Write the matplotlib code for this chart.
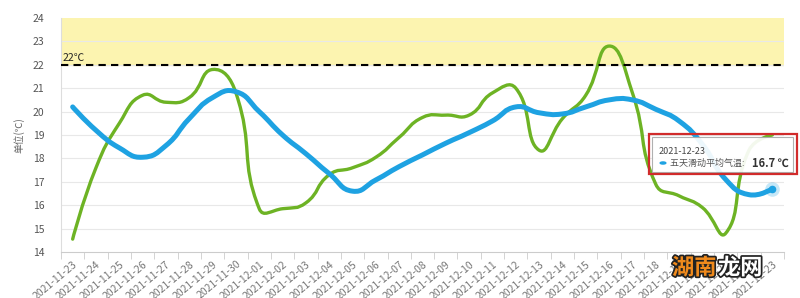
import numpy as np
import matplotlib.pyplot as plt
from matplotlib.path import Path
from matplotlib.patches import PathPatch, Rectangle
import matplotlib.patheffects as pe

plt.rcParams['font.family'] = ['Noto Sans CJK SC', 'DejaVu Sans']

dates = ['2021-11-23', '2021-11-24', '2021-11-25', '2021-11-26', '2021-11-27',
         '2021-11-28', '2021-11-29', '2021-11-30', '2021-12-01', '2021-12-02',
         '2021-12-03', '2021-12-04', '2021-12-05', '2021-12-06', '2021-12-07',
         '2021-12-08', '2021-12-09', '2021-12-10', '2021-12-11', '2021-12-12',
         '2021-12-13', '2021-12-14', '2021-12-15', '2021-12-16', '2021-12-17',
         '2021-12-18', '2021-12-19', '2021-12-20', '2021-12-21', '2021-12-22',
         '2021-12-23']

# 五天滑动平均气温 (blue)
avg5 = [20.2, 19.2, 18.45, 18.05, 18.55, 19.7, 20.6, 20.85, 20.0, 19.0,
        18.2, 17.35, 16.6, 17.08, 17.65, 18.15, 18.65, 19.1, 19.6, 20.2,
        19.95, 19.9, 20.2, 20.5, 20.5, 20.1, 19.6, 18.6, 17.1, 16.45, 16.7]

# daily mean (green)
daily = [14.55, 17.6, 19.5, 20.7, 20.4, 20.6, 21.8, 20.8, 15.85, 15.85,
         16.1, 17.3, 17.6, 18.05, 18.9, 19.75, 19.85, 19.85, 20.8, 21.0,
         18.35, 19.7, 20.7, 22.8, 20.8, 16.9, 16.4, 15.9, 14.8, 18.35, 19.0]

threshold = 22
ylim = (14, 24)


def smooth_path(xs, ys, smooth=0.5):
    # bezier control points, same idea as echarts "smooth: true"
    pts = np.column_stack([xs, ys]).astype(float)
    n = len(pts)
    prev_cp = pts.copy()
    next_cp = pts.copy()
    for i in range(1, n - 1):
        v = pts[i + 1] - pts[i - 1]
        lp = np.linalg.norm(pts[i] - pts[i - 1])
        ln = np.linalg.norm(pts[i + 1] - pts[i])
        s = lp + ln
        rn = ln / s if s else 0.5
        next_cp[i] = pts[i] + v * smooth * rn
        prev_cp[i] = pts[i] - v * smooth * (1 - rn)
    verts = [pts[0]]
    codes = [Path.MOVETO]
    for i in range(n - 1):
        verts += [next_cp[i], prev_cp[i + 1], pts[i + 1]]
        codes += [Path.CURVE4] * 3
    return Path(verts, codes)


fig = plt.figure(figsize=(8, 2.98), dpi=100)
ax = fig.add_axes([61 / 800, 46 / 298, 723 / 800, 234 / 298])

x = np.arange(len(dates))
ax.set_xlim(-0.5, len(dates) - 0.5)
ax.set_ylim(*ylim)

ax.axhspan(threshold, ylim[1], color='#fcf4b0', zorder=0)
for yv in range(15, 24):
    ax.axhline(yv, color='#e8e8e8', lw=0.8, zorder=1)
ax.axhline(threshold, color='black', lw=1.5, ls=(0, (3.5, 2.5)), zorder=4)
ax.text(-0.45, threshold + 0.08, '22℃', fontsize=7.5, color='#222',
        va='bottom', ha='left', zorder=5)

ax.add_patch(PathPatch(smooth_path(x, daily), fill=False, edgecolor='#6db324',
                       lw=2.4, capstyle='round', joinstyle='round', zorder=3))
ax.add_patch(PathPatch(smooth_path(x, avg5), fill=False, edgecolor='#1ea2e2',
                       lw=3.6, capstyle='round', joinstyle='round', zorder=3))

# highlighted last point
ax.scatter([x[-1]], [avg5[-1]], s=110, color='#1ea2e2', alpha=0.25, lw=0, zorder=5)
ax.scatter([x[-1]], [avg5[-1]], s=30, color='#1ea2e2', lw=0, zorder=6)

for sp in ['top', 'right']:
    ax.spines[sp].set_visible(False)
ax.spines['left'].set_color('#dddddd')
ax.spines['bottom'].set_color('#cccccc')

ax.set_yticks(range(14, 25))
ax.tick_params(axis='y', length=0, pad=12, labelsize=7.5, labelcolor='#555')
ax.set_xticks(x)
ax.set_xticklabels(dates, rotation=40, ha='right', rotation_mode='anchor',
                   fontsize=7.5, color='#777')
ax.tick_params(axis='x', length=0, pad=5)
ax.set_xticks(np.arange(-0.5, len(dates)), minor=True)
ax.tick_params(axis='x', which='minor', length=5, color='#cccccc')
ax.set_ylabel('单位(℃)', fontsize=7, color='#666', labelpad=6)

# tooltip
W, H = 800, 298
fig.patches.append(Rectangle((652 / W, 1 - 172 / H), 141 / W, 35 / H,
                             transform=fig.transFigure, facecolor='white',
                             edgecolor='#aaaaaa', lw=0.8, alpha=0.92, zorder=10))
fig.patches.append(Rectangle((649 / W, 1 - 174 / H), 148 / W, 40 / H,
                             transform=fig.transFigure, facecolor='none',
                             edgecolor='#d12b2b', lw=1.6, zorder=11))
fig.text(659 / W, 1 - 151 / H, dates[-1], fontsize=6.5, color='#444',
         va='center', ha='left', zorder=12)
fig.patches.append(plt.Circle((663 / W, 1 - 163 / H), 0.0035,
                              transform=fig.transFigure, color='#1ea2e2', zorder=12))
fig.text(670 / W, 1 - 163 / H, '五天滑动平均气温: ', fontsize=6.5, color='#555',
         va='center', ha='left', zorder=12)
fig.text(752 / W, 1 - 163 / H, '%.1f ℃' % avg5[-1], fontsize=8, color='#333',
         fontweight='bold', va='center', ha='left', zorder=12)

# watermark
wm = fig.text(672 / W, 1 - 268 / H, '湖南', fontsize=16, color='#f08a1c',
              fontweight='bold', va='center', ha='left', zorder=12)
wm.set_path_effects([pe.withStroke(linewidth=2.5, foreground='#222')])
wm2 = fig.text(718 / W, 1 - 268 / H, '龙网', fontsize=16, color='white',
               fontweight='bold', va='center', ha='left', zorder=12)
wm2.set_path_effects([pe.withStroke(linewidth=2.5, foreground='#222')])

fig.savefig('out.png', dpi=100)
